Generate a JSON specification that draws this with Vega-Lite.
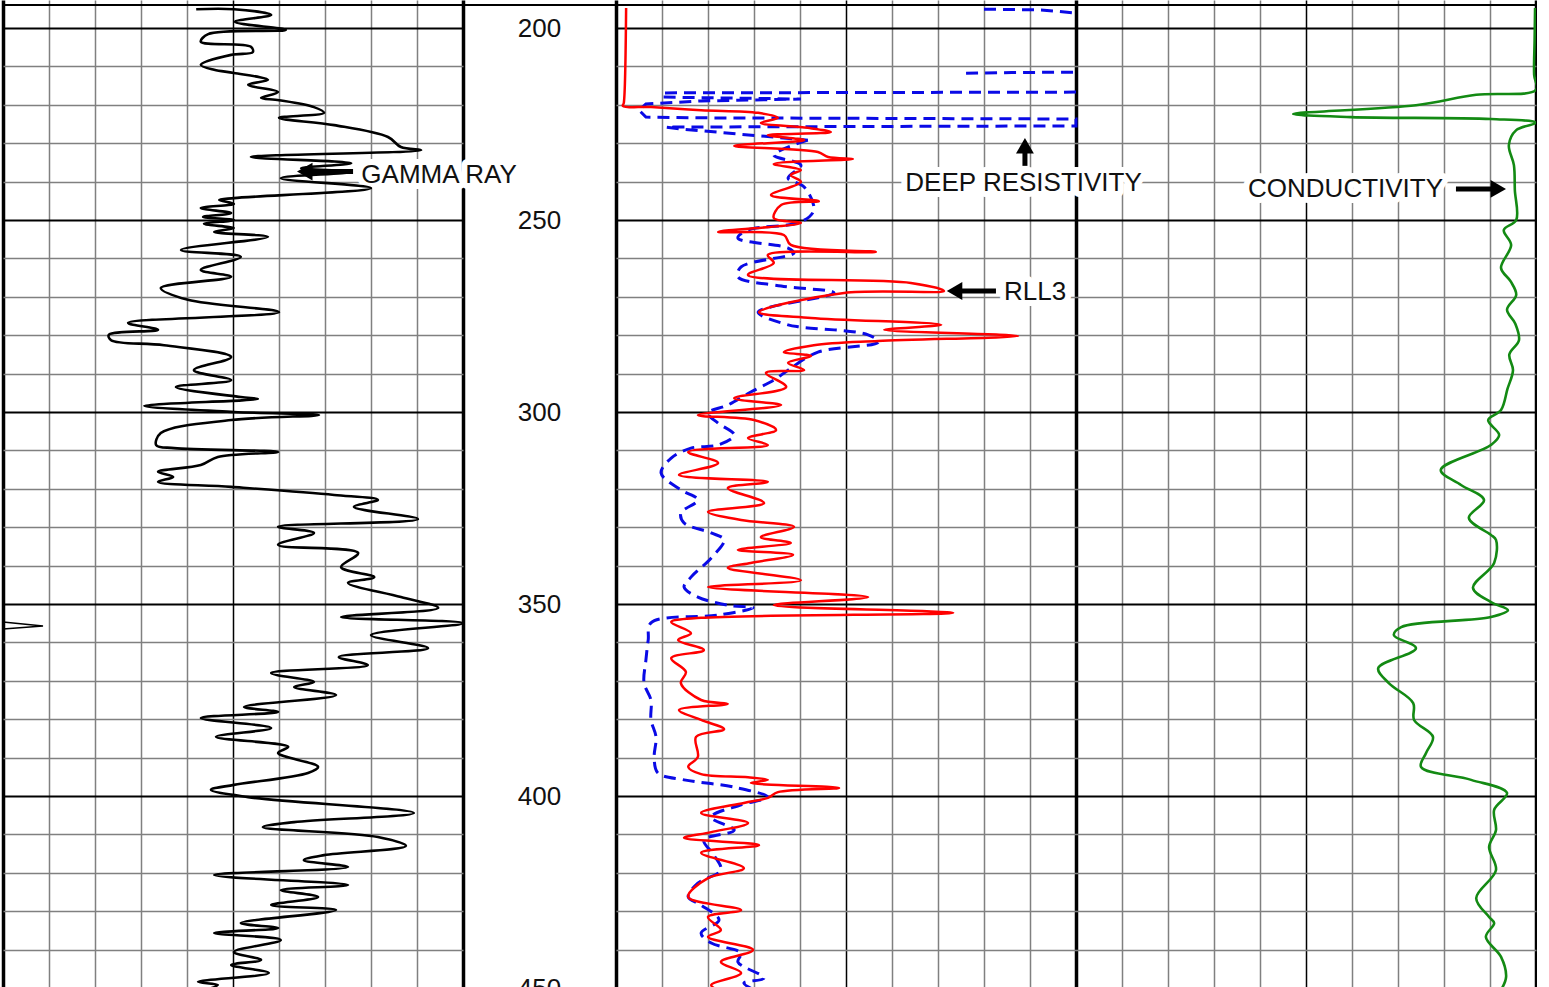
{
"$schema": "https://vega.github.io/schema/vega-lite/v6.json",
"background": "white",
"padding": 0,
"spacing": 0,
"bounds": "flush",
"config": {"view": {"stroke": null}, "font": "Liberation Sans"},
"datasets": {
"gr": [
{"depth":195.1,"gr":42.0},{"depth":195.1,"gr":50.2},{"depth":196.6,"gr":58.3},{"depth":198.4,"gr":50.4},{"depth":200.5,"gr":61.5},{"depth":201.6,"gr":44.6},{"depth":203.6,"gr":43.0},{"depth":204.9,"gr":53.9},{"depth":206.3,"gr":54.3},{"depth":207.0,"gr":49.6},{"depth":209.6,"gr":43.0},{"depth":210.9,"gr":45.9},{"depth":211.7,"gr":50.2},{"depth":213.5,"gr":57.6},{"depth":214.8,"gr":53.3},{"depth":216.7,"gr":59.8},{"depth":218.2,"gr":56.1},{"depth":218.8,"gr":60.0},{"depth":220.6,"gr":67.6},{"depth":222.1,"gr":69.8},{"depth":223.4,"gr":60.0},{"depth":225.3,"gr":72.0},{"depth":228.4,"gr":83.7},{"depth":231.0,"gr":86.5},{"depth":231.8,"gr":90.9},{"depth":233.6,"gr":53.9},{"depth":235.2,"gr":75.7},{"depth":236.5,"gr":64.8},{"depth":237.5,"gr":75.7},{"depth":239.1,"gr":60.4},{"depth":241.7,"gr":80.0},{"depth":244.3,"gr":50.2},{"depth":244.8,"gr":47.0},{"depth":245.8,"gr":50.2},{"depth":246.9,"gr":43.0},{"depth":248.2,"gr":49.6},{"depth":249.2,"gr":43.5},{"depth":250.0,"gr":50.2},{"depth":251.0,"gr":43.7},{"depth":252.1,"gr":50.2},{"depth":253.1,"gr":45.9},{"depth":254.4,"gr":57.6},{"depth":257.8,"gr":38.7},{"depth":259.6,"gr":51.7},{"depth":263.0,"gr":43.0},{"depth":264.8,"gr":49.6},{"depth":267.7,"gr":34.3},{"depth":270.8,"gr":40.2},{"depth":274.0,"gr":60.0},{"depth":276.8,"gr":27.2},{"depth":278.6,"gr":33.7},{"depth":279.9,"gr":23.0},{"depth":281.3,"gr":23.5},{"depth":282.6,"gr":35.0},{"depth":285.7,"gr":49.6},{"depth":289.1,"gr":41.5},{"depth":291.7,"gr":49.6},{"depth":293.5,"gr":37.6},{"depth":296.1,"gr":51.7},{"depth":296.6,"gr":55.4},{"depth":298.4,"gr":30.7},{"depth":300.0,"gr":50.2},{"depth":300.8,"gr":68.7},{"depth":302.1,"gr":49.6},{"depth":305.5,"gr":34.3},{"depth":308.6,"gr":33.3},{"depth":309.4,"gr":37.2},{"depth":310.4,"gr":59.8},{"depth":311.7,"gr":46.7},{"depth":313.8,"gr":43.0},{"depth":315.6,"gr":33.7},{"depth":316.9,"gr":37.0},{"depth":318.2,"gr":33.7},{"depth":319.5,"gr":49.6},{"depth":321.6,"gr":72.0},{"depth":322.9,"gr":81.5},{"depth":324.7,"gr":76.3},{"depth":327.9,"gr":90.2},{"depth":329.9,"gr":59.8},{"depth":331.5,"gr":67.6},{"depth":334.6,"gr":59.8},{"depth":336.7,"gr":77.2},{"depth":340.4,"gr":73.5},{"depth":343.0,"gr":80.7},{"depth":344.5,"gr":75.0},{"depth":348.2,"gr":86.5},{"depth":351.0,"gr":94.6},{"depth":353.4,"gr":73.5},{"depth":355.0,"gr":100},{"depth":358.1,"gr":80.0},{"depth":361.5,"gr":92.4},{"depth":363.8,"gr":73.0},{"depth":365.9,"gr":79.3},{"depth":368.0,"gr":58.3},{"depth":370.3,"gr":67.6},{"depth":371.6,"gr":63.3},{"depth":373.7,"gr":72.4},{"depth":376.8,"gr":52.4},{"depth":378.1,"gr":59.8},{"depth":379.7,"gr":43.0},{"depth":382.3,"gr":58.3},{"depth":384.6,"gr":46.3},{"depth":387.2,"gr":62.0},{"depth":388.8,"gr":59.8},{"depth":392.4,"gr":68.5},{"depth":394.0,"gr":66.3},{"depth":397.1,"gr":50.2},{"depth":398.4,"gr":45.2},{"depth":400.3,"gr":53.3},{"depth":404.4,"gr":89.3},{"depth":406.8,"gr":63.3},{"depth":408.1,"gr":56.5},{"depth":410.7,"gr":81.5},{"depth":413.0,"gr":87.6},{"depth":415.4,"gr":69.8},{"depth":416.7,"gr":65.4},{"depth":418.5,"gr":75.0},{"depth":420.6,"gr":45.9},{"depth":423.2,"gr":75.0},{"depth":424.5,"gr":60.4},{"depth":426.3,"gr":68.5},{"depth":428.4,"gr":58.3},{"depth":429.7,"gr":72.4},{"depth":433.1,"gr":51.7},{"depth":434.4,"gr":59.8},{"depth":435.7,"gr":45.9},{"depth":437.5,"gr":60.4},{"depth":440.6,"gr":50.2},{"depth":442.7,"gr":56.1},{"depth":444.0,"gr":49.6},{"depth":446.1,"gr":57.8},{"depth":448.4,"gr":42.4},{"depth":449.2,"gr":46.7},{"depth":450.5,"gr":44.0}
],
"blip": [{"depth":354.7,"gr":0},{"depth":355.7,"gr":8.7},{"depth":356.5,"gr":0}],
"rll3": [
{"depth":194.8,"rll3":0.22},{"depth":219.5,"rll3":0.17},{"depth":220.3,"rll3":0.15},{"depth":220.6,"rll3":0.76},{"depth":221.4,"rll3":1.85},{"depth":222.1,"rll3":3.09},{"depth":223.4,"rll3":3.52},{"depth":224.7,"rll3":3.15},{"depth":226.0,"rll3":4.17},{"depth":227.1,"rll3":4.67},{"depth":227.9,"rll3":3.30},{"depth":229.2,"rll3":4.09},{"depth":230.7,"rll3":2.57},{"depth":232.3,"rll3":4.39},{"depth":233.6,"rll3":4.61},{"depth":234.1,"rll3":5.15},{"depth":235.4,"rll3":3.43},{"depth":237.0,"rll3":4.02},{"depth":238.3,"rll3":3.80},{"depth":240.1,"rll3":4.02},{"depth":243.5,"rll3":3.37},{"depth":245.1,"rll3":4.41},{"depth":246.1,"rll3":3.59},{"depth":249.5,"rll3":3.43},{"depth":250.8,"rll3":4.02},{"depth":253.1,"rll3":2.22},{"depth":253.9,"rll3":3.65},{"depth":256.5,"rll3":3.80},{"depth":258.3,"rll3":5.65},{"depth":259.1,"rll3":3.30},{"depth":261.2,"rll3":3.43},{"depth":264.3,"rll3":2.87},{"depth":266.4,"rll3":6.41},{"depth":268.5,"rll3":7.13},{"depth":269.0,"rll3":4.96},{"depth":274.0,"rll3":3.11},{"depth":275.5,"rll3":4.24},{"depth":277.3,"rll3":7.07},{"depth":278.6,"rll3":5.83},{"depth":280.2,"rll3":8.74},{"depth":281.5,"rll3":5.70},{"depth":282.6,"rll3":4.30},{"depth":284.4,"rll3":3.65},{"depth":285.4,"rll3":4.24},{"depth":287.2,"rll3":3.74},{"depth":289.1,"rll3":4.09},{"depth":289.8,"rll3":3.26},{"depth":293.5,"rll3":3.70},{"depth":296.4,"rll3":2.57},{"depth":298.2,"rll3":3.59},{"depth":300.8,"rll3":1.78},{"depth":302.1,"rll3":3.00},{"depth":304.7,"rll3":3.48},{"depth":306.8,"rll3":2.87},{"depth":308.6,"rll3":3.30},{"depth":310.4,"rll3":1.57},{"depth":313.3,"rll3":2.22},{"depth":316.4,"rll3":1.37},{"depth":318.2,"rll3":3.30},{"depth":319.8,"rll3":2.43},{"depth":323.7,"rll3":3.22},{"depth":326.0,"rll3":2.00},{"depth":328.1,"rll3":2.72},{"depth":329.9,"rll3":3.87},{"depth":332.6,"rll3":3.15},{"depth":334.1,"rll3":3.80},{"depth":335.9,"rll3":2.65},{"depth":337.2,"rll3":3.85},{"depth":339.3,"rll3":2.93},{"depth":340.6,"rll3":2.43},{"depth":343.8,"rll3":4.02},{"depth":345.6,"rll3":2.00},{"depth":348.2,"rll3":5.48},{"depth":350.3,"rll3":3.43},{"depth":352.3,"rll3":7.33},{"depth":353.6,"rll3":1.85},{"depth":354.7,"rll3":1.20},{"depth":357.6,"rll3":1.63},{"depth":359.4,"rll3":1.35},{"depth":362.0,"rll3":1.91},{"depth":364.1,"rll3":1.20},{"depth":367.7,"rll3":1.52},{"depth":370.6,"rll3":1.41},{"depth":375.0,"rll3":1.85},{"depth":376.0,"rll3":2.43},{"depth":377.6,"rll3":1.37},{"depth":380.2,"rll3":1.85},{"depth":382.6,"rll3":2.35},{"depth":384.6,"rll3":1.74},{"depth":389.8,"rll3":1.78},{"depth":392.4,"rll3":1.57},{"depth":394.3,"rll3":1.85},{"depth":395.1,"rll3":2.87},{"depth":395.8,"rll3":3.30},{"depth":396.6,"rll3":2.93},{"depth":397.9,"rll3":4.85},{"depth":399.0,"rll3":3.52},{"depth":400.5,"rll3":3.30},{"depth":401.8,"rll3":2.78},{"depth":404.4,"rll3":1.85},{"depth":407.0,"rll3":2.87},{"depth":409.4,"rll3":2.07},{"depth":410.9,"rll3":1.48},{"depth":412.8,"rll3":3.11},{"depth":414.8,"rll3":1.85},{"depth":418.8,"rll3":2.78},{"depth":421.4,"rll3":2.00},{"depth":426.3,"rll3":1.57},{"depth":429.7,"rll3":2.72},{"depth":431.5,"rll3":2.00},{"depth":434.9,"rll3":2.28},{"depth":436.7,"rll3":2.00},{"depth":440.1,"rll3":2.98},{"depth":443.2,"rll3":2.28},{"depth":446.1,"rll3":2.72},{"depth":449.2,"rll3":2.07},{"depth":450.5,"rll3":2.2}
],
"deeptop": [
{"seg":"a","depth":195.1,"deep":8.0},{"seg":"a","depth":195.3,"deep":9.24},{"seg":"a","depth":196.1,"deep":10.0},
{"seg":"b","depth":211.8,"deep":7.61},{"seg":"b","depth":211.6,"deep":8.6},{"seg":"b","depth":211.5,"deep":10.0},
{"seg":"c","depth":216.7,"deep":10.0},{"seg":"c","depth":216.9,"deep":1.02},{"seg":"c","depth":218.0,"deep":1.02},{"seg":"c","depth":218.5,"deep":4.02},{"seg":"c","depth":219.0,"deep":1.85},{"seg":"c","depth":219.8,"deep":0.65},{"seg":"c","depth":221.4,"deep":0.5},{"seg":"c","depth":223.2,"deep":0.65},{"seg":"c","depth":223.4,"deep":1.85},{"seg":"c","depth":223.7,"deep":10.0},{"seg":"c","depth":225.5,"deep":10.0},{"seg":"c","depth":225.8,"deep":1.09},{"seg":"c","depth":226.3,"deep":1.41},{"seg":"c","depth":229.2,"deep":4.17}
],
"deep": [
{"depth":229.2,"deep":4.17},{"depth":233.1,"deep":3.43},{"depth":235.7,"deep":4.02},{"depth":239.1,"deep":3.74},{"depth":241.4,"deep":4.09},{"depth":247.4,"deep":4.30},{"depth":250.5,"deep":4.02},{"depth":252.6,"deep":2.87},{"depth":254.7,"deep":2.65},{"depth":257.3,"deep":3.74},{"depth":258.6,"deep":3.87},{"depth":262.2,"deep":2.72},{"depth":264.8,"deep":2.65},{"depth":267.2,"deep":3.59},{"depth":269.0,"deep":4.74},{"depth":274.0,"deep":3.09},{"depth":277.3,"deep":3.74},{"depth":277.9,"deep":4.02},{"depth":279.9,"deep":5.48},{"depth":281.8,"deep":5.70},{"depth":284.4,"deep":4.39},{"depth":289.1,"deep":3.74},{"depth":291.7,"deep":3.43},{"depth":294.8,"deep":2.93},{"depth":298.2,"deep":2.43},{"depth":300.3,"deep":2.00},{"depth":302.9,"deep":2.22},{"depth":306.0,"deep":2.57},{"depth":308.6,"deep":2.22},{"depth":309.4,"deep":1.63},{"depth":312.0,"deep":1.20},{"depth":315.9,"deep":0.98},{"depth":320.3,"deep":1.41},{"depth":322.9,"deep":1.78},{"depth":326.3,"deep":1.41},{"depth":328.9,"deep":1.48},{"depth":331.5,"deep":2.07},{"depth":333.3,"deep":2.35},{"depth":338.0,"deep":2.07},{"depth":343.0,"deep":1.63},{"depth":345.6,"deep":1.48},{"depth":348.2,"deep":1.78},{"depth":350.3,"deep":2.43},{"depth":351.0,"deep":2.98},{"depth":352.9,"deep":2.22},{"depth":354.9,"deep":0.76},{"depth":359.4,"deep":0.70},{"depth":364.6,"deep":0.65},{"depth":370.6,"deep":0.61},{"depth":375.0,"deep":0.76},{"depth":380.2,"deep":0.76},{"depth":384.6,"deep":0.87},{"depth":390.1,"deep":0.83},{"depth":394.0,"deep":0.91},{"depth":395.8,"deep":1.48},{"depth":397.7,"deep":2.57},{"depth":400.3,"deep":3.30},{"depth":402.3,"deep":2.72},{"depth":405.5,"deep":2.07},{"depth":408.9,"deep":2.57},{"depth":411.5,"deep":1.91},{"depth":415.4,"deep":2.13},{"depth":419.3,"deep":2.28},{"depth":422.7,"deep":1.78},{"depth":426.3,"deep":1.57},{"depth":428.4,"deep":1.85},{"depth":432.3,"deep":2.24},{"depth":435.7,"deep":1.85},{"depth":438.3,"deep":2.07},{"depth":440.9,"deep":2.72},{"depth":443.2,"deep":2.65},{"depth":447.4,"deep":3.22},{"depth":448.7,"deep":2.78},{"depth":450.5,"deep":3.0}
],
"cond": [
{"depth":194.8,"cond":2},{"depth":203.1,"cond":3},{"depth":212.2,"cond":4},{"depth":216.1,"cond":0},{"depth":217.4,"cond":130},{"depth":220.1,"cond":261},{"depth":222.4,"cond":528},{"depth":223.2,"cond":402},{"depth":223.7,"cond":98},{"depth":224.7,"cond":0},{"depth":226.6,"cond":43},{"depth":230.5,"cond":59},{"depth":235.7,"cond":48},{"depth":242.2,"cond":46},{"depth":250.0,"cond":43},{"depth":252.6,"cond":70},{"depth":256.5,"cond":54},{"depth":262.5,"cond":76},{"depth":266.0,"cond":55},{"depth":269.5,"cond":43},{"depth":273.4,"cond":63},{"depth":277.0,"cond":45},{"depth":281.3,"cond":37},{"depth":285.0,"cond":58},{"depth":289.1,"cond":50},{"depth":294.0,"cond":62},{"depth":299.5,"cond":76},{"depth":302.1,"cond":104},{"depth":306.0,"cond":80},{"depth":308.6,"cond":98},{"depth":315.1,"cond":207},{"depth":319.0,"cond":163},{"depth":322.9,"cond":113},{"depth":327.6,"cond":146},{"depth":332.0,"cond":98},{"depth":333.3,"cond":87},{"depth":339.3,"cond":91},{"depth":345.8,"cond":137},{"depth":349.5,"cond":98},{"depth":351.6,"cond":61},{"depth":353.4,"cond":98},{"depth":356.0,"cond":293},{"depth":358.1,"cond":309},{"depth":361.5,"cond":261},{"depth":366.7,"cond":343},{"depth":370.6,"cond":320},{"depth":375.8,"cond":267},{"depth":380.2,"cond":265},{"depth":384.6,"cond":224},{"depth":388.8,"cond":239},{"depth":392.4,"cond":250},{"depth":395.8,"cond":141},{"depth":399.2,"cond":63},{"depth":403.6,"cond":91},{"depth":408.9,"cond":87},{"depth":413.3,"cond":102},{"depth":419.3,"cond":87},{"depth":426.6,"cond":130},{"depth":431.5,"cond":102},{"depth":433.1,"cond":91},{"depth":436.7,"cond":109},{"depth":441.9,"cond":76},{"depth":447.1,"cond":65},{"depth":450.5,"cond":76}
],
"frame": [{"depth":194.0}],
"depthlabels": [{"depth":200},{"depth":250},{"depth":300},{"depth":350},{"depth":400},{"depth":450}],
"grlabel": [{"label":"GAMMA RAY","gr":94.8,"depth":237.9}],
"grarrow": [{"x1":65.7,"x2":76.1,"depth":237.4}],
"grhead": [{"gr":65.6,"depth":237.4}],
"reslabels": [{"label":"DEEP RESISTIVITY","pos":8.86,"depth":240.1},{"label":"RLL3","pos":9.11,"depth":268.5},{"label":"CONDUCTIVITY","pos":15.86,"depth":241.7}],
"resarrows": [{"x1":7.36,"x2":8.26,"depth":268.5,"depth2":268.5},{"x1":8.89,"x2":8.89,"depth":230.7,"depth2":235.9},{"x1":18.26,"x2":19.1,"depth":241.9,"depth2":241.9}],
"resheads": [{"pos":7.36,"depth":268.5,"dir":"left"},{"pos":8.89,"depth":230.65,"dir":"up"},{"pos":19.18,"depth":241.9,"dir":"right"}]
},
"hconcat": [
{
"width": 460, "height": 987,
"resolve": {"scale": {"x": "independent"}},
"encoding": {"y": {"field": "depth", "type": "quantitative", "scale": {"domain": [192.71, 449.74], "reverse": true, "nice": false, "zero": false},
  "axis": {"values": [200,210,220,230,240,250,260,270,280,290,300,310,320,330,340,350,360,370,380,390,400,410,420,430,440], "grid": true, "labels": false, "ticks": false, "domain": false, "title": null,
   "gridColor": {"condition": {"test": "datum.value % 50 === 0", "value": "black"}, "value": "#808080"},
   "gridWidth": {"condition": {"test": "datum.value % 50 === 0", "value": 2}, "value": 1.5}}}},
"layer": [
 {"data": {"name": "grlabel"}, "mark": {"type": "text", "align": "center", "baseline": "middle", "fontSize": 26, "dy": 1, "fill": "white", "stroke": "white", "strokeWidth": 12, "strokeJoin": "round"},
  "encoding": {"x": {"field": "gr", "type": "quantitative", "scale": {"domain": [0, 100], "nice": false, "zero": false},
    "axis": {"orient": "top", "values": [0,10,20,30,40,50,60,70,80,90,100], "grid": true, "labels": false, "ticks": false, "domain": false, "title": null,
     "gridColor": {"condition": {"test": "datum.value % 50 === 0", "value": "black"}, "value": "#808080"},
     "gridWidth": {"condition": {"test": "datum.value === 0 || datum.value === 100", "value": 3.5}, "value": 1.5}}},
   "text": {"field": "label"}}},
 {"data": {"name": "blip"}, "mark": {"type": "line", "color": "black", "strokeWidth": 1.5},
  "encoding": {"x": {"field": "gr", "type": "quantitative", "scale": {"domain": [0, 100], "nice": false, "zero": false}, "axis": null}, "order": {"value": null}}},
 {"data": {"name": "gr"}, "mark": {"type": "line", "color": "black", "strokeWidth": 2.6, "strokeJoin": "round", "interpolate": "catmull-rom", "clip": true},
  "encoding": {"x": {"field": "gr", "type": "quantitative", "scale": {"domain": [0, 100], "nice": false, "zero": false}, "axis": null}, "order": {"value": null}}},
 {"data": {"name": "grarrow"}, "mark": {"type": "rule", "color": "black", "strokeWidth": 5},
  "encoding": {"x": {"field": "x1", "type": "quantitative", "scale": {"domain": [0, 100], "nice": false, "zero": false}, "axis": null}, "x2": {"field": "x2"}}},
 {"data": {"name": "grhead"}, "mark": {"type": "point", "shape": "triangle-left", "filled": true, "color": "black", "opacity": 1, "size": 320},
  "encoding": {"x": {"field": "gr", "type": "quantitative", "scale": {"domain": [0, 100], "nice": false, "zero": false}, "axis": null}}},
 {"data": {"name": "grlabel"}, "mark": {"type": "text", "align": "center", "baseline": "middle", "fontSize": 26, "dy": 1, "color": "#111111"},
  "encoding": {"x": {"field": "gr", "type": "quantitative", "scale": {"domain": [0, 100], "nice": false, "zero": false}, "axis": null}, "text": {"field": "label"}}},
 {"data": {"name": "frame"}, "mark": {"type": "rule", "color": "black", "strokeWidth": 2}, "encoding": {}}
]
},
{
"width": 153, "height": 987,
"encoding": {"y": {"field": "depth", "type": "quantitative", "scale": {"domain": [192.71, 449.74], "reverse": true, "nice": false, "zero": false}, "axis": null}},
"layer": [
 {"data": {"name": "depthlabels"}, "mark": {"type": "text", "align": "center", "baseline": "middle", "fontSize": 26, "dy": 1, "color": "#111111"},
  "encoding": {"x": {"datum": 0.5, "type": "quantitative", "scale": {"domain": [0, 1]}, "axis": null}, "text": {"field": "depth", "type": "quantitative", "format": "d"}}},
 {"data": {"name": "frame"}, "mark": {"type": "rule", "color": "black", "strokeWidth": 2}, "encoding": {}}
]
},
{
"width": 920, "height": 987,
"resolve": {"scale": {"x": "independent"}},
"encoding": {"y": {"field": "depth", "type": "quantitative", "scale": {"domain": [192.71, 449.74], "reverse": true, "nice": false, "zero": false},
  "axis": {"values": [200,210,220,230,240,250,260,270,280,290,300,310,320,330,340,350,360,370,380,390,400,410,420,430,440], "grid": true, "labels": false, "ticks": false, "domain": false, "title": null,
   "gridColor": {"condition": {"test": "datum.value % 50 === 0", "value": "black"}, "value": "#808080"},
   "gridWidth": {"condition": {"test": "datum.value % 50 === 0", "value": 2}, "value": 1.5}}}},
"layer": [
 {"data": {"name": "reslabels"}, "mark": {"type": "text", "align": "center", "baseline": "middle", "fontSize": 26, "dy": 1, "fill": "white", "stroke": "white", "strokeWidth": 12, "strokeJoin": "round"},
  "encoding": {"x": {"field": "pos", "type": "quantitative", "scale": {"domain": [0, 20], "nice": false, "zero": false},
    "axis": {"orient": "top", "values": [0,1,2,3,4,5,6,7,8,9,10,11,12,13,14,15,16,17,18,19,20], "grid": true, "labels": false, "ticks": false, "domain": false, "title": null,
     "gridColor": {"condition": {"test": "datum.value % 5 === 0", "value": "black"}, "value": "#808080"},
     "gridWidth": {"condition": {"test": "datum.value % 10 === 0", "value": 3.5}, "value": 1.5}}},
   "text": {"field": "label"}}},
 {"data": {"name": "deeptop"}, "mark": {"type": "line", "color": "#0a0ae6", "strokeWidth": 3, "strokeDash": [12, 7], "clip": true},
  "encoding": {"x": {"field": "deep", "type": "quantitative", "scale": {"domain": [0, 20], "nice": false, "zero": false}, "axis": null}, "detail": {"field": "seg"}, "order": {"value": null}}},
 {"data": {"name": "deep"}, "mark": {"type": "line", "color": "#0a0ae6", "strokeWidth": 3, "strokeDash": [12, 7], "interpolate": "catmull-rom", "clip": true},
  "encoding": {"x": {"field": "deep", "type": "quantitative", "scale": {"domain": [0, 20], "nice": false, "zero": false}, "axis": null}, "order": {"value": null}}},
 {"data": {"name": "rll3"}, "mark": {"type": "line", "color": "#ff0000", "strokeWidth": 2.5, "strokeJoin": "round", "interpolate": "catmull-rom", "clip": true},
  "encoding": {"x": {"field": "rll3", "type": "quantitative", "scale": {"domain": [0, 20], "nice": false, "zero": false}, "axis": null}, "order": {"value": null}}},
 {"data": {"name": "cond"}, "mark": {"type": "line", "color": "#138a13", "strokeWidth": 2.6, "strokeJoin": "round", "interpolate": "catmull-rom", "clip": true},
  "encoding": {"x": {"field": "cond", "type": "quantitative", "scale": {"domain": [2000, 0], "nice": false, "zero": false}, "axis": null}, "order": {"value": null}}},
 {"data": {"name": "resarrows"}, "mark": {"type": "rule", "color": "black", "strokeWidth": 5},
  "encoding": {"x": {"field": "x1", "type": "quantitative", "scale": {"domain": [0, 20], "nice": false, "zero": false}, "axis": null}, "x2": {"field": "x2"}, "y2": {"field": "depth2"}}},
 {"data": {"name": "resheads"}, "mark": {"type": "point", "filled": true, "color": "black", "opacity": 1, "size": 320},
  "encoding": {"x": {"field": "pos", "type": "quantitative", "scale": {"domain": [0, 20], "nice": false, "zero": false}, "axis": null},
   "shape": {"field": "dir", "type": "nominal", "scale": {"domain": ["left", "up", "right"], "range": ["triangle-left", "triangle-up", "triangle-right"]}, "legend": null}}},
 {"data": {"name": "reslabels"}, "mark": {"type": "text", "align": "center", "baseline": "middle", "fontSize": 26, "dy": 1, "color": "#111111"},
  "encoding": {"x": {"field": "pos", "type": "quantitative", "scale": {"domain": [0, 20], "nice": false, "zero": false}, "axis": null}, "text": {"field": "label"}}},
 {"data": {"name": "frame"}, "mark": {"type": "rule", "color": "black", "strokeWidth": 2}, "encoding": {}}
]
}
]
}
